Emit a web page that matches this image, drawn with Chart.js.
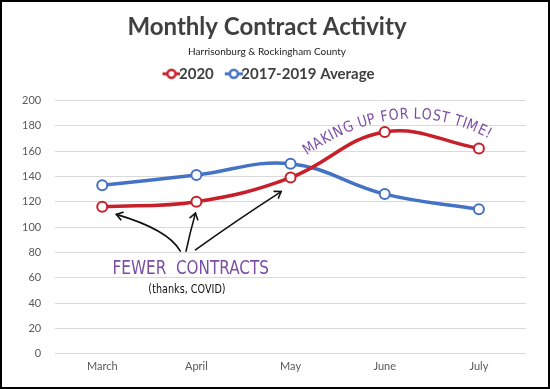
<!DOCTYPE html>
<html>
<head>
<meta charset="utf-8">
<script src="https://cdn.jsdelivr.net/npm/chart.js@4.4.1/dist/chart.umd.min.js"></script>
<style>
  html, body { margin: 0; padding: 0; background: #fff; }
  #wrap { width: 550px; height: 389px; box-sizing: border-box; border: 2px solid #000; }
</style>
</head>
<body>
<div id="wrap"><canvas id="contractChart" width="546" height="385"></canvas></div>
<script>
(() => {
  'use strict'

  const months = ['March', 'April', 'May', 'June', 'July'];
  const contracts2020 = [116, 120, 139, 175, 162];
  const contractsAvg = [133, 141, 150, 126, 114];
  const yTicks = [0, 20, 40, 60, 80, 100, 120, 140, 160, 180, 200];

  const RED = '#c8202a';
  const BLUE = '#4472c4';
  const PURPLE = '#7a4ea6';

  // little line + circle marker for the legend (drawn on the right side of the canvas)
  function legendMarker(color) {
    const c = document.createElement('canvas');
    c.width = 30; c.height = 12;
    const g = c.getContext('2d');
    g.strokeStyle = color;
    g.lineWidth = 3;
    g.beginPath(); g.moveTo(12, 6); g.lineTo(30, 6); g.stroke();
    g.fillStyle = '#fff';
    g.lineWidth = 2.5;
    g.beginPath(); g.arc(21, 6, 4, 0, Math.PI * 2); g.fill(); g.stroke();
    return c;
  }

  function fitText(ctx, text, x1, x2, y) {
    const w = ctx.measureText(text).width;
    ctx.save();
    ctx.translate(x1, y);
    ctx.scale((x2 - x1) / w, 1);
    ctx.fillText(text, 0, 0);
    ctx.restore();
  }

  function arrow(ctx, p0, c, p1) {
    ctx.beginPath();
    ctx.moveTo(p0.x, p0.y);
    ctx.quadraticCurveTo(c.x, c.y, p1.x, p1.y);
    ctx.stroke();
    const ang = Math.atan2(p1.y - c.y, p1.x - c.x);
    const L = 7;
    ctx.beginPath();
    ctx.moveTo(p1.x - L * Math.cos(ang - 0.6), p1.y - L * Math.sin(ang - 0.6));
    ctx.lineTo(p1.x, p1.y);
    ctx.lineTo(p1.x - L * Math.cos(ang + 0.6), p1.y - L * Math.sin(ang + 0.6));
    ctx.stroke();
  }

  // text laid out along a quadratic curve, letters spread by their widths
  function curvedText(ctx, text, q0, q1, q2) {
    const pt = t => ({
      x: (1 - t) * (1 - t) * q0.x + 2 * (1 - t) * t * q1.x + t * t * q2.x,
      y: (1 - t) * (1 - t) * q0.y + 2 * (1 - t) * t * q1.y + t * t * q2.y
    });
    const steps = 200, lens = [0];
    let prev = pt(0);
    for (let s = 1; s <= steps; s++) {
      const p = pt(s / steps);
      lens.push(lens[s - 1] + Math.hypot(p.x - prev.x, p.y - prev.y));
      prev = p;
    }
    const total = lens[steps];
    const widths = [...text].map(ch => ctx.measureText(ch).width);
    const sum = widths.reduce((a, b) => a + b, 0);
    const k = total / sum;
    let acc = 0;
    [...text].forEach((ch, i) => {
      const target = (acc + widths[i] / 2) * k;
      acc += widths[i];
      let s = 0;
      while (s < steps && lens[s] < target) s++;
      const t = s / steps;
      const p = pt(t);
      const dx = 2 * (1 - t) * (q1.x - q0.x) + 2 * t * (q2.x - q1.x);
      const dy = 2 * (1 - t) * (q1.y - q0.y) + 2 * t * (q2.y - q1.y);
      ctx.save();
      ctx.translate(p.x, p.y);
      ctx.rotate(Math.atan2(dy, dx));
      ctx.scale(k * 0.92, 1);
      ctx.textAlign = 'center';
      ctx.fillText(ch, 0, 0);
      ctx.restore();
    });
  }

  const notes = {
    id: 'notes',
    beforeInit(chart) {
      const fit = chart.legend.fit;
      chart.legend.fit = function () {
        fit.call(this);
        this.height += 9;
      };
    },
    afterDatasetsDraw(chart) {
      const { ctx, scales: { x, y } } = chart;
      const P = (i, v) => ({ x: x.getPixelForValue(i), y: y.getPixelForValue(v) });
      ctx.save();

      // arrows
      ctx.strokeStyle = '#111';
      ctx.lineWidth = 1.6;
      ctx.lineCap = 'round';
      arrow(ctx, P(0.83, 81), P(0.7, 98), P(0.15, 110));
      arrow(ctx, P(0.89, 81), P(0.93, 95), P(0.99, 111));
      arrow(ctx, P(0.99, 82), P(1.4, 104), P(1.9, 128));

      // FEWER CONTRACTS
      ctx.fillStyle = PURPLE;
      ctx.font = '20px "DejaVu Sans"';
      ctx.textBaseline = 'alphabetic';
      const a = P(0.11, 63), b = P(1.77, 63);
      fitText(ctx, 'FEWER  CONTRACTS', a.x, b.x, a.y);

      ctx.fillStyle = '#111';
      ctx.font = '13px "DejaVu Sans"';
      const t1 = P(0.49, 48), t2 = P(1.31, 48);
      fitText(ctx, '(thanks, COVID)', t1.x, t2.x, t1.y);

      // MAKING UP FOR LOST TIME!
      ctx.fillStyle = PURPLE;
      ctx.font = '15px "DejaVu Sans"';
      curvedText(ctx, 'MAKING UP FOR LOST TIME!', P(2.16, 156), P(3.15, 207), P(4.1, 170));
      ctx.restore();
    }
  };

  const ctx1 = document.getElementById('contractChart');
  const contractChart = new Chart(ctx1, {
    type: 'line',
    data: {
      labels: months,
      datasets: [{
        label: '2020',
        data: contracts2020,
        borderColor: RED,
        backgroundColor: RED,
        borderWidth: 3.5,
        tension: 0.4,
        pointRadius: 5,
        pointBorderWidth: 2,
        pointBackgroundColor: '#fff',
        pointBorderColor: RED
      }, {
        label: '2017-2019 Average',
        data: contractsAvg,
        borderColor: BLUE,
        backgroundColor: BLUE,
        borderWidth: 3.5,
        tension: 0.4,
        pointRadius: 5,
        pointBorderWidth: 2,
        pointBackgroundColor: '#fff',
        pointBorderColor: BLUE
      }]
    },
    options: {
      responsive: false,
      animation: false,
      layout: { padding: { left: 6, right: 22, top: 4, bottom: 8 } },
      scales: {
        x: {
          offset: true,
          grid: { display: false, drawTicks: false },
          border: { display: false },
          ticks: { color: '#595959', font: { family: 'Lato', size: 11 }, padding: 6 }
        },
        y: {
          min: 0,
          max: 200,
          afterBuildTicks: axis => { axis.ticks = yTicks.map(v => ({ value: v })); },
          grid: { color: '#d9d9d9', drawTicks: false },
          border: { display: false },
          ticks: { color: '#595959', font: { family: 'Lato', size: 11 }, padding: 14 }
        }
      },
      plugins: {
        title: {
          display: true,
          text: 'Monthly Contract Activity',
          color: '#404040',
          font: { family: 'Lato', size: 24, weight: 'bold' },
          padding: { top: 7, bottom: 3.5 }
        },
        subtitle: {
          display: true,
          text: 'Harrisonburg & Rockingham County',
          color: '#222',
          font: { family: 'Lato', size: 10 },
          padding: { bottom: 1 }
        },
        legend: {
          display: true,
          labels: {
            color: '#404040',
            font: { family: 'Lato', size: 15, weight: 'bold' },
            usePointStyle: true,
            pointStyleWidth: 12,
            boxHeight: 12,
            padding: 8,
            generateLabels: chart => chart.data.datasets.map((ds, i) => ({
              text: ds.label,
              pointStyle: legendMarker(ds.borderColor),
              fillStyle: ds.borderColor,
              strokeStyle: ds.borderColor,
              fontColor: '#404040',
              lineWidth: 0,
              datasetIndex: i
            }))
          }
        },
        tooltip: { enabled: false }
      }
    },
    plugins: [notes]
  });

})();
</script>
</body>
</html>
